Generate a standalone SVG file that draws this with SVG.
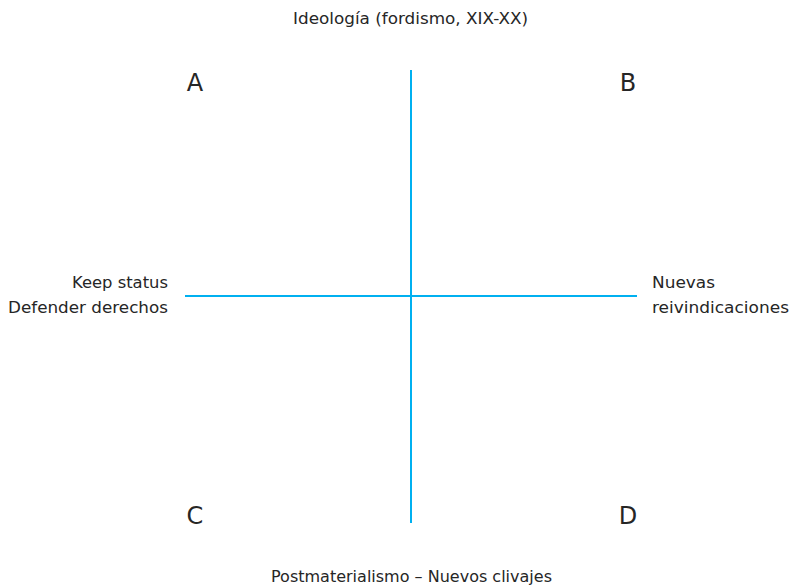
<svg xmlns="http://www.w3.org/2000/svg" width="793" height="588" viewBox="0 0 793 588">
<style>
.t{font-family:"DejaVu Sans","Liberation Sans",sans-serif;fill:#262626;font-size:15px}
.q{font-family:"DejaVu Sans","Liberation Sans",sans-serif;fill:#262626;font-size:24px;text-anchor:middle}
.ax{stroke:#00B0F0;stroke-width:2;fill:none}
</style>
<rect width="793" height="588" fill="#fff"/>
<g id="connectors">
<line class="ax" x1="411" y1="70" x2="411" y2="523"/>
<line class="ax" x1="185" y1="296" x2="637" y2="296"/>
</g>
<g id="top"><text class="t" x="293" y="24" textLength="235" lengthAdjust="spacingAndGlyphs">Ideología (fordismo, XIX-XX)</text></g>
<g id="bottom"><text class="t" x="271" y="582" textLength="281" lengthAdjust="spacingAndGlyphs">Postmaterialismo – Nuevos clivajes</text></g>
<g id="left"><text class="t" x="72" y="288" textLength="96" lengthAdjust="spacingAndGlyphs">Keep status</text><text class="t" x="8" y="313" textLength="160" lengthAdjust="spacingAndGlyphs">Defender derechos</text></g>
<g id="right"><text class="t" x="652" y="288" textLength="63" lengthAdjust="spacingAndGlyphs">Nuevas</text><text class="t" x="652" y="313" textLength="137" lengthAdjust="spacingAndGlyphs">reivindicaciones</text></g>
<g id="A"><text class="q" x="195" y="91">A</text></g>
<g id="B"><text class="q" x="628" y="91">B</text></g>
<g id="C"><text class="q" x="195" y="524">C</text></g>
<g id="D"><text class="q" x="628" y="524">D</text></g>
</svg>
